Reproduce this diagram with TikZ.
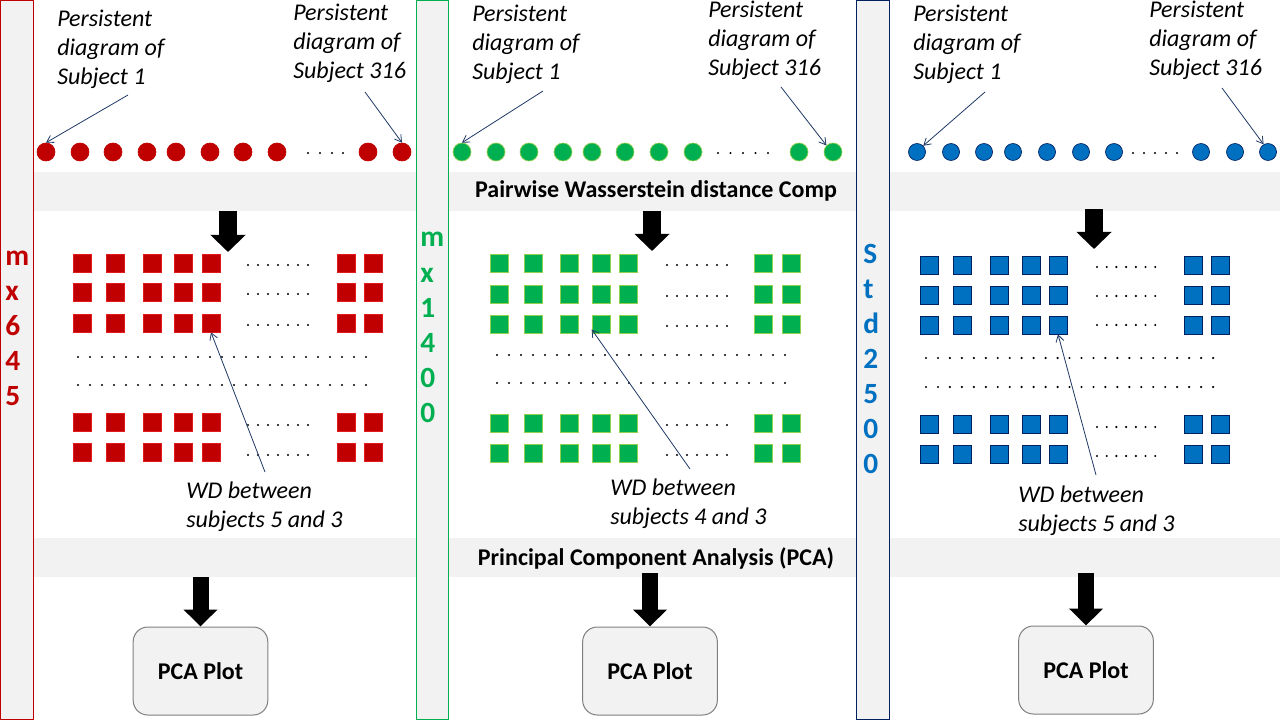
\documentclass[tikz,border=0pt]{standalone}
\usepackage{fontspec}
\setmainfont{Carlito}
\usetikzlibrary{arrows.meta,positioning}

\definecolor{panelgray}{HTML}{F2F2F2}
\definecolor{pdred}{HTML}{C00000}
\definecolor{pdredline}{HTML}{E41B1B}
\definecolor{pdgreen}{HTML}{00B050}
\definecolor{pdgreenline}{HTML}{92D050}
\definecolor{pdblue}{HTML}{0070C0}
\definecolor{pdnavy}{HTML}{002060}
\definecolor{notenavy}{HTML}{1F3864}
\definecolor{boxline}{HTML}{7F7F7F}

\tikzset{
  sidebar/.style={fill=panelgray,line width=0.75pt},
  barletter/.style={font=\fontsize{22}{26}\selectfont\bfseries,anchor=base west,inner sep=0pt},
  pdiag/.style={circle,inner sep=0pt,minimum size=13.5pt,line width=0.5pt},
  wdbox/.style={rectangle,inner sep=0pt,minimum size=13.5pt,line width=0.5pt},
  pdnote/.style={font=\fontsize{18}{21.5}\selectfont\itshape,align=left,anchor=north west,inner sep=0pt},
  notearrow/.style={draw=notenavy,line width=0.6pt,-{Straight Barb[length=5pt,width=6pt]}},
  stagetext/.style={font=\fontsize{18}{21.5}\selectfont\bfseries,anchor=base,inner sep=0pt},
  fatarrow/.style={line width=13.5pt,-{Triangle[width=25.5pt,length=12.75pt]}},
  fatarrowlow/.style={line width=12pt,-{Triangle[width=24.75pt,length=12.75pt]}},
  pcabox/.style={draw=boxline,fill=panelgray,rounded corners=11pt,minimum width=101pt,minimum height=66pt,font=\fontsize{18}{21.5}\selectfont\bfseries,line width=0.75pt},
}

\begin{document}
\begin{tikzpicture}[x=0.75pt,y=-0.75pt]
\useasboundingbox (0,0) rectangle (1280,720);

% grey stage bands
\fill[panelgray] (34,172) rectangle (1280,211);
\fill[panelgray] (34,538) rectangle (1280,577);

% side bars
\draw[sidebar,draw=pdred] (0.5,0.5) rectangle (33.5,719.5);
\draw[sidebar,draw=pdgreen] (416,0.5) rectangle (448.5,719.5);
\draw[sidebar,draw=pdnavy] (856,0.5) rectangle (889,719.5);
\foreach \c [count=\i from 0] in {m,x,6,4,5}
  \node[barletter,text=pdred] (mxa\i) at (5,{265+35*\i}) {\c};
\foreach \c [count=\i from 0] in {m,x,1,4,0,0}
  \node[barletter,text=pdgreen] (mxb\i) at (420,{247+35*\i}) {\c};
\foreach \c [count=\i from 0] in {S,t,d,2,5,0,0}
  \node[barletter,text=pdblue] (stdc\i) at (863,{263+35*\i}) {\c};

% persistent diagrams
\foreach \x [count=\i] in {46,80,113,147,176,210,243,277,368,402}
  \node[pdiag,fill=pdred,draw=pdred] (ra\i) at (\x,152) {};
\foreach \x [count=\i] in {462,496,529,563,592,625,659,693,799,833}
  \node[pdiag,fill=pdgreen,draw=pdgreenline] (ga\i) at (\x,152) {};
\foreach \x [count=\i] in {917,951,984,1013,1047,1081,1114,1201,1235,1268}
  \node[pdiag,minimum size=12.75pt,fill=pdblue,draw=pdnavy] (ba\i) at (\x,152) {};
\foreach \x in {308,320,332,343}
  \fill (\x,153) circle[radius=1.2];
\foreach \x in {718,730.5,743,755.5,768}
  \fill (\x,153) circle[radius=1.2];
\foreach \x in {1133,1144,1155,1166,1177}
  \fill (\x,153) circle[radius=1.2];

% labels of the diagrams
\node[pdnote] (sa1) at (57,10) {Persistent\\diagram of\\Subject 1};
\node[pdnote] (sa2) at (293,4) {Persistent\\diagram of\\Subject 316};
\node[pdnote] (sb1) at (472,5) {Persistent\\diagram of\\Subject 1};
\node[pdnote] (sb2) at (708,1) {Persistent\\diagram of\\Subject 316};
\node[pdnote] (sc1) at (913,5) {Persistent\\diagram of\\Subject 1};
\node[pdnote] (sc2) at (1149,1) {Persistent\\diagram of\\Subject 316};
\coordinate (na1) at (128,95);
\coordinate (na2) at (365,92);
\coordinate (nb1) at (543,91);
\coordinate (nb2) at (781,87);
\coordinate (nc1) at (985,92);
\coordinate (nc2) at (1222,88);
\draw[notearrow] (na1) -- (ra1.north);
\draw[notearrow] (na2) -- (ra10.north);
\draw[notearrow] (nb1) -- (ga1.north);
\draw[notearrow] (nb2) -- (ga10.135);
\draw[notearrow] (nc1) -- (ba1.45);
\draw[notearrow] (nc2) -- (ba10.120);

% stage titles
\node[stagetext] (wdcomp) at (656,198) {Pairwise Wasserstein distance Comp};
\node[stagetext] (pcastep) at (656,565) {Principal Component Analysis (PCA)};

% arrows into the distance matrices
\coordinate (tra) at (228,211); \coordinate (hra) at (228,252);
\coordinate (trb) at (652,211); \coordinate (hrb) at (652,251);
\coordinate (trc) at (1094,209); \coordinate (hrc) at (1094,249);
\draw[fatarrow] (tra) -- (hra);
\draw[fatarrow] (trb) -- (hrb);
\draw[fatarrow] (trc) -- (hrc);

% distance matrices
\foreach \y [count=\r] in {263,292,323,422,452}
  \foreach \x [count=\c] in {82,115,152,183,211,346,373}
    \node[wdbox,fill=pdred,draw=pdredline] (rq\r-\c) at (\x,\y) {};
\foreach \y [count=\r] in {263,294,324,423,453}
  \foreach \x [count=\c] in {499,533,569,601,628,763,791}
    \node[wdbox,fill=pdgreen,draw=pdgreenline] (gq\r-\c) at (\x,\y) {};
\foreach \y [count=\r] in {265,295,325,424,454}
  \foreach \x [count=\c] in {929,962,999,1031,1058,1193,1220}
    \node[wdbox,fill=pdblue,draw=pdnavy] (bq\r-\c) at (\x,\y) {};
\foreach \y in {265,294,325,425,455}
  \foreach \k in {0,...,6}
    \fill ({248+10*\k},\y) circle[radius=1.2];
\foreach \y in {265,296,326,425,455}
  \foreach \k in {0,...,6}
    \fill ({667+10*\k},\y) circle[radius=1.2];
\foreach \y in {267,296,325,427,456}
  \foreach \k in {0,...,6}
    \fill ({1097+9.7*\k},\y) circle[radius=1.2];
\foreach \y in {357,385}
  \foreach \k in {0,...,24}
    \fill ({78+12*\k},\y) circle[radius=1.2];
\foreach \y in {355,383}
  \foreach \k in {0,...,24}
    \fill ({497+12*\k},\y) circle[radius=1.2];
\foreach \y in {358,387}
  \foreach \k in {0,...,24}
    \fill ({926+11.96*\k},\y) circle[radius=1.2];

% WD labels
\node[pdnote] (wda) at (186,482) {WD between\\subjects 5 and 3};
\node[pdnote] (wdb) at (610,479) {WD between\\subjects 4 and 3};
\node[pdnote] (wdc) at (1018,486) {WD between\\subjects 5 and 3};
\coordinate (wa) at (265,472);
\coordinate (wb) at (690,469);
\coordinate (wc) at (1096,475);
\draw[notearrow] (wa) -- (rq3-5.south);
\draw[notearrow] (wb) -- (gq3-4.210);
\draw[notearrow] (wc) -- (bq3-5.south);

% PCA plots
\node[pcabox] (pcaa) at (200.5,671) {PCA Plot};
\node[pcabox] (pcab) at (650,671) {PCA Plot};
\node[pcabox] (pcac) at (1086,670) {PCA Plot};
\coordinate (bra) at (200.5,577);
\coordinate (brb) at (650,573);
\coordinate (brc) at (1086,573);
\draw[fatarrowlow] (bra) -- (pcaa.north);
\draw[fatarrowlow] (brb) -- (pcab.north);
\draw[fatarrowlow] (brc) -- (pcac.north);
\end{tikzpicture}
\end{document}
